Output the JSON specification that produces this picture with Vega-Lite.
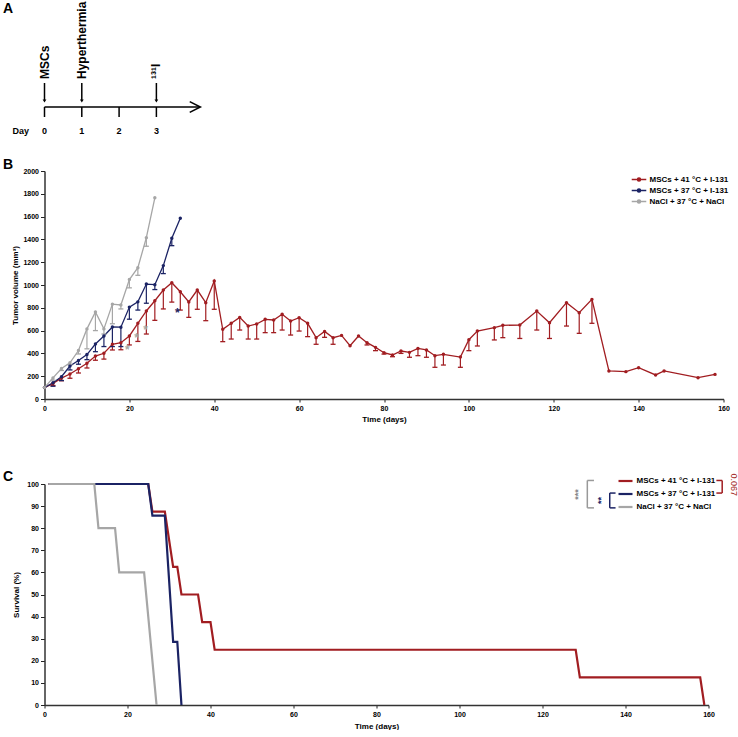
{
  "$schema": "https://vega.github.io/schema/vega-lite/v6.json",
  "background": "white",
  "padding": {"left": 2.5, "top": 0, "right": 0, "bottom": 0},
  "config": {
    "view": {"stroke": null},
    "font": "Liberation Sans",
    "axis": {"labelFont": "Liberation Sans", "labelFontSize": 7, "labelFontWeight": "bold", "labelColor": "black", "titleFont": "Liberation Sans", "titleFontSize": 8, "titleFontWeight": "bold", "titleColor": "black", "domainColor": "#333", "domainWidth": 1.5, "tickColor": "#222", "tickSize": 4, "tickWidth": 1, "grid": false, "labelPadding": 2, "titlePadding": 4, "labelFlush": false, "labelOverlap": false, "format": "d"},
    "text": {"font": "Liberation Sans"}
  },
  "resolve": {"scale": {"color": "independent"}, "legend": {"color": "independent"}},
  "datasets": {
    "tumor": [
      {"group": "MSCs + 41 °C + I-131", "day": 0, "mean": 100, "lower": 100},
      {"group": "MSCs + 41 °C + I-131", "day": 2, "mean": 137, "lower": 118},
      {"group": "MSCs + 41 °C + I-131", "day": 4, "mean": 183, "lower": 160},
      {"group": "MSCs + 41 °C + I-131", "day": 6, "mean": 219, "lower": 182},
      {"group": "MSCs + 41 °C + I-131", "day": 8, "mean": 266, "lower": 228},
      {"group": "MSCs + 41 °C + I-131", "day": 10, "mean": 313, "lower": 272},
      {"group": "MSCs + 41 °C + I-131", "day": 12, "mean": 377, "lower": 340},
      {"group": "MSCs + 41 °C + I-131", "day": 14, "mean": 401, "lower": 350},
      {"group": "MSCs + 41 °C + I-131", "day": 16, "mean": 480, "lower": 430},
      {"group": "MSCs + 41 °C + I-131", "day": 18, "mean": 494, "lower": 432},
      {"group": "MSCs + 41 °C + I-131", "day": 20, "mean": 553, "lower": 474},
      {"group": "MSCs + 41 °C + I-131", "day": 22, "mean": 664, "lower": 505},
      {"group": "MSCs + 41 °C + I-131", "day": 24, "mean": 772, "lower": 570},
      {"group": "MSCs + 41 °C + I-131", "day": 26, "mean": 862, "lower": 690},
      {"group": "MSCs + 41 °C + I-131", "day": 28, "mean": 956, "lower": 790},
      {"group": "MSCs + 41 °C + I-131", "day": 30, "mean": 1020, "lower": 850},
      {"group": "MSCs + 41 °C + I-131", "day": 32, "mean": 941, "lower": 780},
      {"group": "MSCs + 41 °C + I-131", "day": 34, "mean": 851, "lower": 716},
      {"group": "MSCs + 41 °C + I-131", "day": 36, "mean": 956, "lower": 787},
      {"group": "MSCs + 41 °C + I-131", "day": 38, "mean": 845, "lower": 687},
      {"group": "MSCs + 41 °C + I-131", "day": 40, "mean": 1035, "lower": 787},
      {"group": "MSCs + 41 °C + I-131", "day": 42, "mean": 611, "lower": 503},
      {"group": "MSCs + 41 °C + I-131", "day": 44, "mean": 664, "lower": 526},
      {"group": "MSCs + 41 °C + I-131", "day": 46, "mean": 716, "lower": 605},
      {"group": "MSCs + 41 °C + I-131", "day": 48, "mean": 640, "lower": 526},
      {"group": "MSCs + 41 °C + I-131", "day": 50, "mean": 658, "lower": 526},
      {"group": "MSCs + 41 °C + I-131", "day": 52, "mean": 699, "lower": 582},
      {"group": "MSCs + 41 °C + I-131", "day": 54, "mean": 693, "lower": 582},
      {"group": "MSCs + 41 °C + I-131", "day": 56, "mean": 743, "lower": 605},
      {"group": "MSCs + 41 °C + I-131", "day": 58, "mean": 684, "lower": 561},
      {"group": "MSCs + 41 °C + I-131", "day": 60, "mean": 713, "lower": 596},
      {"group": "MSCs + 41 °C + I-131", "day": 62, "mean": 664, "lower": 547},
      {"group": "MSCs + 41 °C + I-131", "day": 64, "mean": 538, "lower": 480},
      {"group": "MSCs + 41 °C + I-131", "day": 66, "mean": 593, "lower": 541},
      {"group": "MSCs + 41 °C + I-131", "day": 68, "mean": 538, "lower": 480},
      {"group": "MSCs + 41 °C + I-131", "day": 70, "mean": 558, "lower": 558},
      {"group": "MSCs + 41 °C + I-131", "day": 72, "mean": 468, "lower": 468},
      {"group": "MSCs + 41 °C + I-131", "day": 74, "mean": 553, "lower": 553},
      {"group": "MSCs + 41 °C + I-131", "day": 76, "mean": 494, "lower": 474},
      {"group": "MSCs + 41 °C + I-131", "day": 78, "mean": 453, "lower": 424},
      {"group": "MSCs + 41 °C + I-131", "day": 80, "mean": 406, "lower": 394},
      {"group": "MSCs + 41 °C + I-131", "day": 82, "mean": 386, "lower": 371},
      {"group": "MSCs + 41 °C + I-131", "day": 84, "mean": 421, "lower": 400},
      {"group": "MSCs + 41 °C + I-131", "day": 86, "mean": 409, "lower": 366},
      {"group": "MSCs + 41 °C + I-131", "day": 88, "mean": 444, "lower": 380},
      {"group": "MSCs + 41 °C + I-131", "day": 90, "mean": 430, "lower": 366},
      {"group": "MSCs + 41 °C + I-131", "day": 92, "mean": 380, "lower": 278},
      {"group": "MSCs + 41 °C + I-131", "day": 94, "mean": 392, "lower": 298},
      {"group": "MSCs + 41 °C + I-131", "day": 98, "mean": 368, "lower": 278},
      {"group": "MSCs + 41 °C + I-131", "day": 100, "mean": 520, "lower": 424},
      {"group": "MSCs + 41 °C + I-131", "day": 102, "mean": 596, "lower": 465},
      {"group": "MSCs + 41 °C + I-131", "day": 106, "mean": 626, "lower": 518},
      {"group": "MSCs + 41 °C + I-131", "day": 108, "mean": 646, "lower": 538},
      {"group": "MSCs + 41 °C + I-131", "day": 112, "mean": 649, "lower": 531},
      {"group": "MSCs + 41 °C + I-131", "day": 116, "mean": 772, "lower": 605},
      {"group": "MSCs + 41 °C + I-131", "day": 119, "mean": 669, "lower": 531},
      {"group": "MSCs + 41 °C + I-131", "day": 123, "mean": 845, "lower": 640},
      {"group": "MSCs + 41 °C + I-131", "day": 126, "mean": 757, "lower": 576},
      {"group": "MSCs + 41 °C + I-131", "day": 129, "mean": 874, "lower": 664},
      {"group": "MSCs + 41 °C + I-131", "day": 133, "mean": 246, "lower": 246},
      {"group": "MSCs + 41 °C + I-131", "day": 137, "mean": 240, "lower": 240},
      {"group": "MSCs + 41 °C + I-131", "day": 140, "mean": 275, "lower": 275},
      {"group": "MSCs + 41 °C + I-131", "day": 144, "mean": 211, "lower": 211},
      {"group": "MSCs + 41 °C + I-131", "day": 146, "mean": 246, "lower": 246},
      {"group": "MSCs + 41 °C + I-131", "day": 154, "mean": 187, "lower": 187},
      {"group": "MSCs + 41 °C + I-131", "day": 158, "mean": 216, "lower": 216},
      {"group": "MSCs + 37 °C + I-131", "day": 0, "mean": 100, "lower": 100},
      {"group": "MSCs + 37 °C + I-131", "day": 2, "mean": 143, "lower": 112},
      {"group": "MSCs + 37 °C + I-131", "day": 4, "mean": 196, "lower": 162},
      {"group": "MSCs + 37 °C + I-131", "day": 6, "mean": 289, "lower": 255},
      {"group": "MSCs + 37 °C + I-131", "day": 8, "mean": 338, "lower": 305},
      {"group": "MSCs + 37 °C + I-131", "day": 10, "mean": 390, "lower": 345},
      {"group": "MSCs + 37 °C + I-131", "day": 12, "mean": 482, "lower": 415},
      {"group": "MSCs + 37 °C + I-131", "day": 14, "mean": 553, "lower": 460},
      {"group": "MSCs + 37 °C + I-131", "day": 16, "mean": 632, "lower": 460},
      {"group": "MSCs + 37 °C + I-131", "day": 18, "mean": 630, "lower": 460},
      {"group": "MSCs + 37 °C + I-131", "day": 20, "mean": 806, "lower": 700},
      {"group": "MSCs + 37 °C + I-131", "day": 22, "mean": 852, "lower": 780},
      {"group": "MSCs + 37 °C + I-131", "day": 24, "mean": 1008, "lower": 840},
      {"group": "MSCs + 37 °C + I-131", "day": 26, "mean": 1003, "lower": 960},
      {"group": "MSCs + 37 °C + I-131", "day": 28, "mean": 1170, "lower": 1100},
      {"group": "MSCs + 37 °C + I-131", "day": 30, "mean": 1410, "lower": 1345},
      {"group": "MSCs + 37 °C + I-131", "day": 32, "mean": 1585, "lower": 1585},
      {"group": "NaCl + 37 °C + NaCl", "day": 0, "mean": 100, "lower": 100},
      {"group": "NaCl + 37 °C + NaCl", "day": 2, "mean": 185, "lower": 165},
      {"group": "NaCl + 37 °C + NaCl", "day": 4, "mean": 268, "lower": 250},
      {"group": "NaCl + 37 °C + NaCl", "day": 6, "mean": 318, "lower": 300},
      {"group": "NaCl + 37 °C + NaCl", "day": 8, "mean": 425, "lower": 395},
      {"group": "NaCl + 37 °C + NaCl", "day": 10, "mean": 615, "lower": 440},
      {"group": "NaCl + 37 °C + NaCl", "day": 12, "mean": 763, "lower": 600},
      {"group": "NaCl + 37 °C + NaCl", "day": 14, "mean": 615, "lower": 570},
      {"group": "NaCl + 37 °C + NaCl", "day": 16, "mean": 832, "lower": 660},
      {"group": "NaCl + 37 °C + NaCl", "day": 18, "mean": 825, "lower": 790},
      {"group": "NaCl + 37 °C + NaCl", "day": 20, "mean": 1048, "lower": 975},
      {"group": "NaCl + 37 °C + NaCl", "day": 22, "mean": 1152, "lower": 1085},
      {"group": "NaCl + 37 °C + NaCl", "day": 24, "mean": 1415, "lower": 1340},
      {"group": "NaCl + 37 °C + NaCl", "day": 26, "mean": 1765, "lower": 1765}
    ],
    "stars": [
      {"group": "NaCl + 37 °C + NaCl", "day": 19.5, "value": 430, "label": "*"},
      {"group": "NaCl + 37 °C + NaCl", "day": 21.7, "value": 538, "label": "*"},
      {"group": "NaCl + 37 °C + NaCl", "day": 23.8, "value": 605, "label": "*"},
      {"group": "MSCs + 37 °C + I-131", "day": 31.3, "value": 751, "label": "*"}
    ],
    "survival": [
      {"group": "MSCs + 41 °C + I-131", "day": 1, "pct": 100},
      {"group": "MSCs + 41 °C + I-131", "day": 25, "pct": 100},
      {"group": "MSCs + 41 °C + I-131", "day": 26, "pct": 87.5},
      {"group": "MSCs + 41 °C + I-131", "day": 29, "pct": 87.5},
      {"group": "MSCs + 41 °C + I-131", "day": 31, "pct": 62.5},
      {"group": "MSCs + 41 °C + I-131", "day": 32, "pct": 62.5},
      {"group": "MSCs + 41 °C + I-131", "day": 33, "pct": 50},
      {"group": "MSCs + 41 °C + I-131", "day": 37, "pct": 50},
      {"group": "MSCs + 41 °C + I-131", "day": 38, "pct": 37.5},
      {"group": "MSCs + 41 °C + I-131", "day": 40, "pct": 37.5},
      {"group": "MSCs + 41 °C + I-131", "day": 41, "pct": 25},
      {"group": "MSCs + 41 °C + I-131", "day": 128, "pct": 25},
      {"group": "MSCs + 41 °C + I-131", "day": 129, "pct": 12.5},
      {"group": "MSCs + 41 °C + I-131", "day": 158, "pct": 12.5},
      {"group": "MSCs + 41 °C + I-131", "day": 159, "pct": 0},
      {"group": "MSCs + 37 °C + I-131", "day": 1, "pct": 100},
      {"group": "MSCs + 37 °C + I-131", "day": 25, "pct": 100},
      {"group": "MSCs + 37 °C + I-131", "day": 26, "pct": 85.7},
      {"group": "MSCs + 37 °C + I-131", "day": 29, "pct": 85.7},
      {"group": "MSCs + 37 °C + I-131", "day": 31, "pct": 28.6},
      {"group": "MSCs + 37 °C + I-131", "day": 32, "pct": 28.6},
      {"group": "MSCs + 37 °C + I-131", "day": 33, "pct": 0},
      {"group": "NaCl + 37 °C + NaCl", "day": 1, "pct": 100},
      {"group": "NaCl + 37 °C + NaCl", "day": 12, "pct": 100},
      {"group": "NaCl + 37 °C + NaCl", "day": 13, "pct": 80},
      {"group": "NaCl + 37 °C + NaCl", "day": 17, "pct": 80},
      {"group": "NaCl + 37 °C + NaCl", "day": 18, "pct": 60},
      {"group": "NaCl + 37 °C + NaCl", "day": 24, "pct": 60},
      {"group": "NaCl + 37 °C + NaCl", "day": 27, "pct": 0}
    ],
    "schedule": [
      {"day": 0, "event": "MSCs"},
      {"day": 1, "event": "Hyperthermia"},
      {"day": 2, "event": ""},
      {"day": 3, "event": "¹³¹I"}
    ],
    "one": [{}]
  },
  "spacing": 85,
  "bounds": "flush",
  "vconcat": [
    {
      "width": 160,
      "height": 86,
      "layer": [
        {
          "data": {"name": "one"},
          "mark": {"type": "rule", "color": "black", "strokeWidth": 1.5},
          "encoding": {
            "x": {"datum": 0, "type": "quantitative", "scale": {"domain": [0, 4.29], "nice": false, "zero": false}, "axis": null},
            "x2": {"datum": 4.16},
            "y": {"datum": 0, "type": "quantitative", "scale": {"domain": [2.1, 10.7], "nice": false, "zero": false}, "axis": null}
          }
        },
        {
          "data": {"name": "one"},
          "mark": {"type": "point", "shape": "M-2,-1L0,0L-2,1", "filled": false, "color": "black", "strokeWidth": 1.5, "size": 114, "opacity": 1},
          "encoding": {
            "x": {"datum": 4.18, "type": "quantitative", "axis": null},
            "y": {"datum": 0, "type": "quantitative", "axis": null}
          }
        },
        {
          "data": {"name": "schedule"},
          "mark": {"type": "rule", "color": "black", "strokeWidth": 1.5},
          "encoding": {
            "x": {"field": "day", "type": "quantitative", "axis": null},
            "y": {"datum": 0, "type": "quantitative", "axis": null},
            "y2": {"datum": -1}
          }
        },
        {
          "data": {"name": "schedule"},
          "transform": [{"filter": "datum.event != ''"}],
          "mark": {"type": "rule", "color": "black", "strokeWidth": 1.5},
          "encoding": {
            "x": {"field": "day", "type": "quantitative", "axis": null},
            "y": {"datum": 2.4, "type": "quantitative", "axis": null},
            "y2": {"datum": 0.7}
          }
        },
        {
          "data": {"name": "schedule"},
          "transform": [{"filter": "datum.event != ''"}],
          "mark": {"type": "point", "shape": "triangle-down", "filled": true, "color": "black", "size": 14, "opacity": 1},
          "encoding": {
            "x": {"field": "day", "type": "quantitative", "axis": null},
            "y": {"datum": 0.6, "type": "quantitative", "axis": null}
          }
        },
        {
          "data": {"name": "schedule"},
          "transform": [{"filter": "datum.event != ''"}],
          "mark": {"type": "text", "angle": 270, "align": "left", "baseline": "middle", "fontSize": 12, "fontWeight": "bold", "color": "black"},
          "encoding": {
            "x": {"field": "day", "type": "quantitative", "axis": null},
            "y": {"datum": 2.8, "type": "quantitative", "axis": null},
            "text": {"field": "event"}
          }
        },
        {
          "data": {"name": "schedule"},
          "mark": {"type": "text", "align": "center", "baseline": "middle", "fontSize": 9, "fontWeight": "bold", "color": "black"},
          "encoding": {
            "x": {"field": "day", "type": "quantitative", "axis": null},
            "y": {"datum": -2.4, "type": "quantitative", "axis": null},
            "text": {"field": "day"}
          }
        },
        {
          "data": {"name": "one"},
          "mark": {"type": "text", "align": "center", "baseline": "middle", "fontSize": 9, "fontWeight": "bold", "color": "black"},
          "encoding": {
            "x": {"datum": -0.64, "type": "quantitative", "axis": null},
            "y": {"datum": -2.4, "type": "quantitative", "axis": null},
            "text": {"value": "Day"}
          }
        },
        {
          "data": {"name": "one"},
          "mark": {"type": "text", "align": "left", "baseline": "middle", "fontSize": 14, "fontWeight": "bold", "color": "black"},
          "encoding": {
            "x": {"datum": -1.113, "type": "quantitative", "axis": null},
            "y": {"datum": 9.85, "type": "quantitative", "axis": null},
            "text": {"value": "A"}
          }
        }
      ]
    },
    {
      "width": 679,
      "height": 228,
      "layer": [
        {
          "data": {"name": "tumor"},
          "mark": {"type": "line", "strokeWidth": 1.3},
          "encoding": {
            "x": {"field": "day", "type": "quantitative", "scale": {"domain": [0, 160], "nice": false, "zero": false}, "axis": {"values": [0, 20, 40, 60, 80, 100, 120, 140, 160], "title": "Time (days)", "tickSize": 3, "labelOverlap": false}},
            "y": {"field": "mean", "type": "quantitative", "scale": {"domain": [0, 2000], "nice": false}, "axis": {"values": [0, 200, 400, 600, 800, 1000, 1200, 1400, 1600, 1800, 2000], "tickCount": 11, "title": "Tumor volume (mm³)", "titlePadding": 3, "labelOverlap": false}},
            "color": {"field": "group", "type": "nominal", "scale": {"domain": ["MSCs + 41 °C + I-131", "MSCs + 37 °C + I-131", "NaCl + 37 °C + NaCl"], "range": ["#A11D21", "#1B2364", "#A6A6A6"]}, "legend": {"orient": "none", "legendX": 590, "legendY": 4, "title": null, "symbolType": "M-2,0H2M0.45,0A0.45,0.45,0,1,1,-0.45,0A0.45,0.45,0,1,1,0.45,0", "symbolSize": 53, "symbolStrokeWidth": 1.3, "labelFont": "Liberation Sans", "labelFontSize": 8, "labelFontWeight": "bold", "labelColor": "black", "labelOffset": 6, "rowPadding": 2, "encode": {"symbols": {"update": {"fill": {"scale": "color", "field": "value"}, "stroke": {"scale": "color", "field": "value"}}}}}}
          }
        },
        {
          "data": {"name": "tumor"},
          "transform": [{"filter": "datum.lower < datum.mean"}],
          "mark": {"type": "rule", "strokeWidth": 1.2},
          "encoding": {
            "x": {"field": "day", "type": "quantitative"},
            "y": {"field": "mean", "type": "quantitative"},
            "y2": {"field": "lower"},
            "color": {"field": "group", "type": "nominal"}
          }
        },
        {
          "data": {"name": "tumor"},
          "transform": [{"filter": "datum.lower < datum.mean"}],
          "mark": {"type": "tick", "orient": "horizontal", "size": 5, "thickness": 1.3, "opacity": 1},
          "encoding": {
            "x": {"field": "day", "type": "quantitative"},
            "y": {"field": "lower", "type": "quantitative"},
            "color": {"field": "group", "type": "nominal"}
          }
        },
        {
          "data": {"name": "tumor"},
          "mark": {"type": "point", "filled": true, "size": 12, "opacity": 1},
          "encoding": {
            "x": {"field": "day", "type": "quantitative"},
            "y": {"field": "mean", "type": "quantitative"},
            "color": {"field": "group", "type": "nominal"}
          }
        },
        {
          "data": {"name": "stars"},
          "mark": {"type": "text", "fontSize": 12, "fontWeight": "bold", "baseline": "middle", "align": "center"},
          "encoding": {
            "x": {"field": "day", "type": "quantitative"},
            "y": {"field": "value", "type": "quantitative"},
            "text": {"field": "label"},
            "color": {"field": "group", "type": "nominal"}
          }
        },
        {
          "data": {"name": "one"},
          "mark": {"type": "text", "align": "left", "baseline": "middle", "fontSize": 14, "fontWeight": "bold", "color": "black"},
          "encoding": {
            "x": {"datum": -9.78, "type": "quantitative"},
            "y": {"datum": 2052, "type": "quantitative"},
            "text": {"value": "B"}
          }
        }
      ]
    },
    {
      "width": 664,
      "height": 221,
      "layer": [
        {
          "data": {"name": "survival"},
          "mark": {"type": "line", "strokeWidth": 2.2},
          "encoding": {
            "x": {"field": "day", "type": "quantitative", "scale": {"domain": [0, 160], "nice": false, "zero": false}, "axis": {"values": [0, 20, 40, 60, 80, 100, 120, 140, 160], "title": "Time (days)", "tickSize": 3, "titlePadding": 5, "labelOverlap": false}},
            "y": {"field": "pct", "type": "quantitative", "scale": {"domain": [0, 100], "nice": false}, "axis": {"values": [0, 10, 20, 30, 40, 50, 60, 70, 80, 90, 100], "tickCount": 11, "title": "Survival (%)", "titlePadding": 6, "labelOverlap": false}},
            "color": {"field": "group", "type": "nominal", "scale": {"domain": ["MSCs + 41 °C + I-131", "MSCs + 37 °C + I-131", "NaCl + 37 °C + NaCl"], "range": ["#A11D21", "#1B2364", "#A6A6A6"]}, "legend": {"orient": "none", "legendX": 576, "legendY": -8, "title": null, "symbolType": "M-2,0H2", "symbolSize": 49, "symbolStrokeWidth": 2.2, "labelFont": "Liberation Sans", "labelFontSize": 8, "labelFontWeight": "bold", "labelColor": "black", "labelOffset": 6, "rowPadding": 3}}
          }
        },
        {"data": {"name": "one"}, "mark": {"type": "rule", "color": "#999999", "strokeWidth": 1.5}, "encoding": {"x": {"datum": 130.8, "type": "quantitative"}, "y": {"datum": 101.6, "type": "quantitative"}, "y2": {"datum": 89.2}}},
        {"data": {"name": "one"}, "mark": {"type": "rule", "color": "#999999", "strokeWidth": 1.5}, "encoding": {"x": {"datum": 130.8, "type": "quantitative"}, "x2": {"datum": 132.4}, "y": {"datum": 101.6, "type": "quantitative"}}},
        {"data": {"name": "one"}, "mark": {"type": "rule", "color": "#999999", "strokeWidth": 1.5}, "encoding": {"x": {"datum": 130.8, "type": "quantitative"}, "x2": {"datum": 132.4}, "y": {"datum": 89.2, "type": "quantitative"}}},
        {"data": {"name": "one"}, "mark": {"type": "rule", "color": "#1B2364", "strokeWidth": 1.5}, "encoding": {"x": {"datum": 136.2, "type": "quantitative"}, "y": {"datum": 95.9, "type": "quantitative"}, "y2": {"datum": 89.2}}},
        {"data": {"name": "one"}, "mark": {"type": "rule", "color": "#1B2364", "strokeWidth": 1.5}, "encoding": {"x": {"datum": 136.2, "type": "quantitative"}, "x2": {"datum": 137.6}, "y": {"datum": 95.9, "type": "quantitative"}}},
        {"data": {"name": "one"}, "mark": {"type": "rule", "color": "#1B2364", "strokeWidth": 1.5}, "encoding": {"x": {"datum": 136.2, "type": "quantitative"}, "x2": {"datum": 137.6}, "y": {"datum": 89.2, "type": "quantitative"}}},
        {"data": {"name": "one"}, "mark": {"type": "rule", "color": "#A11D21", "strokeWidth": 1.5}, "encoding": {"x": {"datum": 163.3, "type": "quantitative"}, "y": {"datum": 101.6, "type": "quantitative"}, "y2": {"datum": 95.9}}},
        {"data": {"name": "one"}, "mark": {"type": "rule", "color": "#A11D21", "strokeWidth": 1.5}, "encoding": {"x": {"datum": 161.9, "type": "quantitative"}, "x2": {"datum": 163.3}, "y": {"datum": 101.6, "type": "quantitative"}}},
        {"data": {"name": "one"}, "mark": {"type": "rule", "color": "#A11D21", "strokeWidth": 1.5}, "encoding": {"x": {"datum": 161.9, "type": "quantitative"}, "x2": {"datum": 163.3}, "y": {"datum": 95.9, "type": "quantitative"}}},
        {"data": {"name": "one"}, "mark": {"type": "text", "angle": 270, "align": "center", "baseline": "middle", "fontSize": 9, "fontWeight": "bold", "color": "#888888"}, "encoding": {"x": {"datum": 128.6, "type": "quantitative"}, "y": {"datum": 95.2, "type": "quantitative"}, "text": {"value": "***"}}},
        {"data": {"name": "one"}, "mark": {"type": "text", "angle": 270, "align": "center", "baseline": "middle", "fontSize": 9, "fontWeight": "bold", "color": "#1B2364"}, "encoding": {"x": {"datum": 134.0, "type": "quantitative"}, "y": {"datum": 92.5, "type": "quantitative"}, "text": {"value": "**"}}},
        {"data": {"name": "one"}, "mark": {"type": "text", "angle": 90, "align": "center", "baseline": "middle", "fontSize": 9, "color": "#A11D21"}, "encoding": {"x": {"datum": 166.1, "type": "quantitative"}, "y": {"datum": 99.7, "type": "quantitative"}, "text": {"value": "0.067"}}},
        {"data": {"name": "one"}, "mark": {"type": "text", "align": "left", "baseline": "middle", "fontSize": 14, "fontWeight": "bold", "color": "black"}, "encoding": {"x": {"datum": -10.0, "type": "quantitative"}, "y": {"datum": 103.3, "type": "quantitative"}, "text": {"value": "C"}}}
      ]
    }
  ]
}
